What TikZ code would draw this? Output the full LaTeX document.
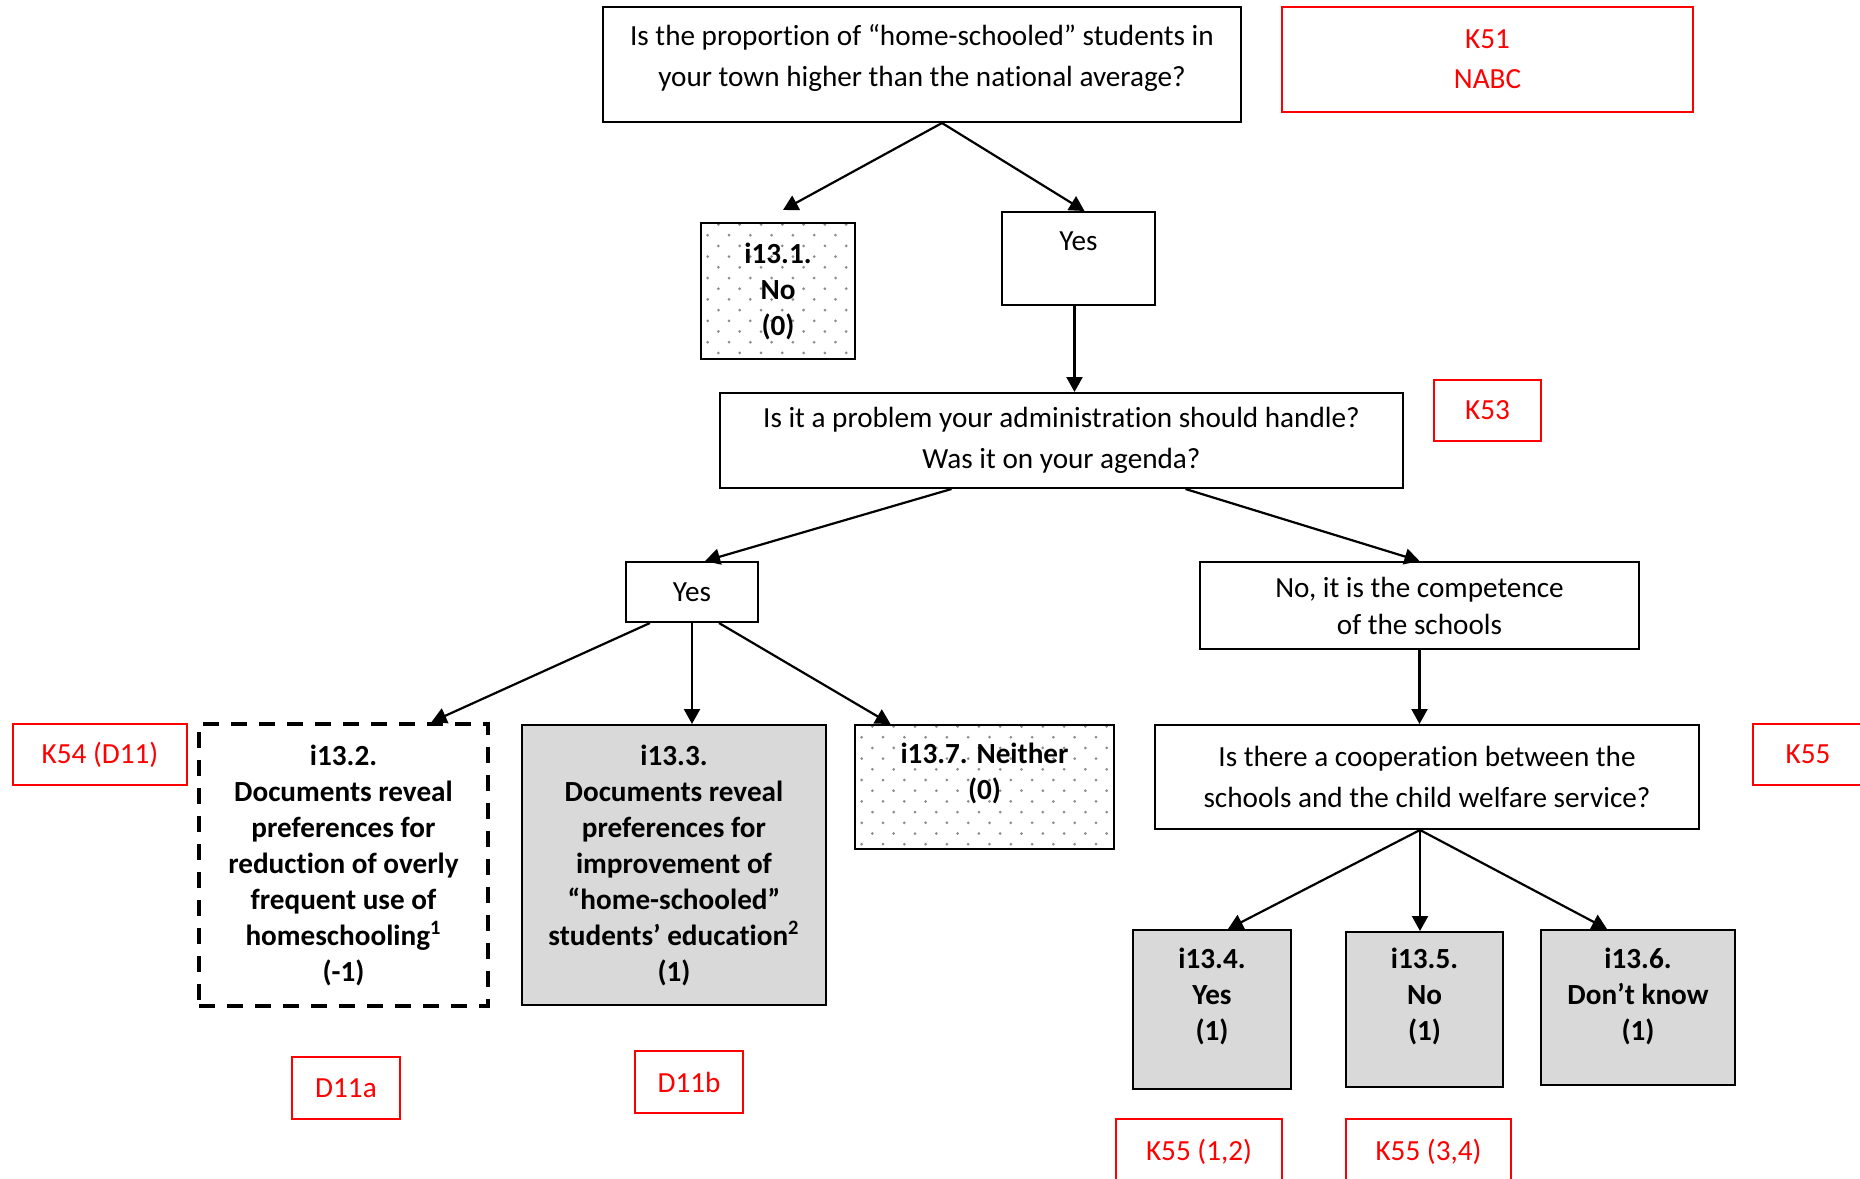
\documentclass[tikz,border=0pt]{standalone}
\usepackage{fontspec}
\setmainfont{Carlito}[Ligatures=NoCommon]
\usepackage{xcolor}
\usepackage{tikz}
\usetikzlibrary{arrows.meta,positioning,calc}
\definecolor{boxgray}{HTML}{D9D9D9}
\definecolor{tagred}{HTML}{FF0000}
\definecolor{dotgray}{HTML}{8C8C8C}
\tikzset{
  box/.style={draw, line width=1pt, align=center, inner sep=2pt,
              font=\fontsize{14.6}{20.5}\selectfont},
  ques/.style={box},
  ans/.style={box, font=\fontsize{14.6}{18}\selectfont\bfseries},
  grey/.style={ans, fill=boxgray},
  dashbox/.style={ans, line width=2pt, dash pattern=on 8pt off 6pt},
  dotbox/.style={ans, path picture={
      \foreach \j in {0,...,13}{
        \pgfmathsetmacro\dotoff{10.7*(1-mod(\j,2))}
        \foreach \i in {0,...,12}
          \fill[dotgray] ($(path picture bounding box.north west)+(6.7+\i*21.3+\dotoff,1.5+\j*10.7)$) circle (0.75pt);
      }}},
  tag/.style={draw=tagred, text=tagred, line width=1pt, align=center, inner sep=2pt,
              font=\fontsize{14.6}{20}\selectfont},
  txt/.style={align=center, inner sep=0pt, font=\fontsize{14.6}{20.5}\selectfont},
  btxt/.style={txt, font=\fontsize{14.6}{18}\selectfont\bfseries},
  flow/.style={-{Triangle[length=7.5pt, width=8pt]}, line width=1.1pt},
}
\begin{document}
\begin{tikzpicture}[x=0.5pt, y=-0.5pt]
  \useasboundingbox (0,0) rectangle (1860,1179);
  % first question
  \node[ques, minimum width=319pt, minimum height=57.5pt] (q1) at (922,64.5) {};
  \node[txt, below=9pt of q1.north] (q1t)
    {Is the proportion of “home-schooled” students in\\your town higher than the national average?};
  \node[tag, minimum width=205.5pt, minimum height=52.5pt] (k51) at (1487.5,59.5) {K51\\NABC};
  \node[dotbox, minimum width=77pt, minimum height=68pt] (n131) at (778,291) {i13.1.\\No\\(0)};
  \node[ques, minimum width=76.5pt, minimum height=46.5pt] (yes1) at (1078.5,258.5) {};
  \node[txt, below=10pt of yes1.north] (yes1t) {Yes};
  \draw[flow] ([xshift=10pt]q1.south) -- ([xshift=2.5pt,yshift=6pt]n131.north);
  \draw[flow] ([xshift=10pt]q1.south) -- ([xshift=3pt]yes1.north);
  % second question
  \node[ques, minimum width=341.5pt, minimum height=47.5pt] (q2) at (1061.5,440.5)
    {Is it a problem your administration should handle?\\Was it on your agenda?};
  \node[tag, minimum width=53.5pt, minimum height=30.5pt] (k53) at (1487.5,410.5) {K53};
  \draw[flow] ([xshift=-2pt]yes1.south) -- ([xshift=-2pt]yes1.south |- q2.north);
  \node[ques, minimum width=66pt, minimum height=30pt] (yes2) at (692,592) {Yes};
  \node[ques, minimum width=219.5pt, minimum height=43.5pt, font=\fontsize{14.6}{18.5}\selectfont]
    (nocomp) at (1419.5,605.5) {No, it is the competence\\of the schools};
  \draw[flow] ([xshift=-55pt]q2.south) -- ([xshift=6.5pt]yes2.north);
  \draw[flow] ([xshift=62pt]q2.south) -- (nocomp.north);
  % answers under yes
  \node[dashbox, minimum width=144.5pt, minimum height=141pt] (n132) at (343.5,865)
    {i13.2.\\Documents reveal\\preferences for\\reduction of overly\\frequent use of\\homeschooling\textsuperscript{1}\\(-1)};
  \node[grey, minimum width=152pt, minimum height=140pt] (n133) at (674,865)
    {i13.3.\\Documents reveal\\preferences for\\improvement of\\“home-schooled”\\students’ education\textsuperscript{2}\\(1)};
  \node[dotbox, minimum width=129.5pt, minimum height=62pt] (n137) at (984.5,787) {};
  \node[btxt, below=9.5pt of n137.north] (n137t) {i13.7. Neither\\(0)};
  \node[tag, minimum width=87pt, minimum height=30.5pt] (k54) at (100,754.5) {K54 (D11)};
  \node[tag, minimum width=54pt, minimum height=31pt] (d11a) at (346,1088) {D11a};
  \node[tag, minimum width=54pt, minimum height=31pt] (d11b) at (689,1082) {D11b};
  \draw[flow] ([xshift=-21pt]yes2.south) -- ([xshift=44pt]n132.north);
  \draw[flow] (yes2.south) -- (yes2.south |- n133.north);
  \draw[flow] ([xshift=13.5pt]yes2.south) -- ([xshift=-47pt]n137.north);
  % third question
  \node[ques, minimum width=272pt, minimum height=52pt] (q3) at (1427,777)
    {Is there a cooperation between the\\schools and the child welfare service?};
  \node[tag, minimum width=55pt, minimum height=30.5pt] (k55) at (1808,754.5) {K55};
  \draw[flow] (nocomp.south) -- (nocomp.south |- q3.north);
  \node[grey, minimum width=79pt, minimum height=79.5pt] (n134) at (1212,1009.5) {};
  \node[btxt, below=9.3pt of n134.north] (n134t) {i13.4.\\Yes\\(1)};
  \node[grey, minimum width=78.5pt, minimum height=77.5pt] (n135) at (1424.5,1009.5) {};
  \node[btxt, below=8.5pt of n135.north] (n135t) {i13.5.\\No\\(1)};
  \node[grey, minimum width=97pt, minimum height=77.5pt] (n136) at (1638,1007.5) {};
  \node[btxt, below=9.3pt of n136.north] (n136t) {i13.6.\\Don’t know\\(1)};
  \draw[flow] ([xshift=-3.5pt]q3.south) -- ([xshift=8pt]n134.north);
  \draw[flow] ([xshift=-3.5pt]q3.south) -- ([xshift=-3.5pt]q3.south |- n135.north);
  \draw[flow] ([xshift=-3.5pt]q3.south) -- ([xshift=-15.5pt]n136.north);
  \node[tag, minimum width=83pt, minimum height=33pt] (k5512) at (1199,1152) {K55 (1,2)};
  \node[tag, minimum width=82.5pt, minimum height=33pt] (k5534) at (1428.5,1152) {K55 (3,4)};
\end{tikzpicture}
\end{document}
